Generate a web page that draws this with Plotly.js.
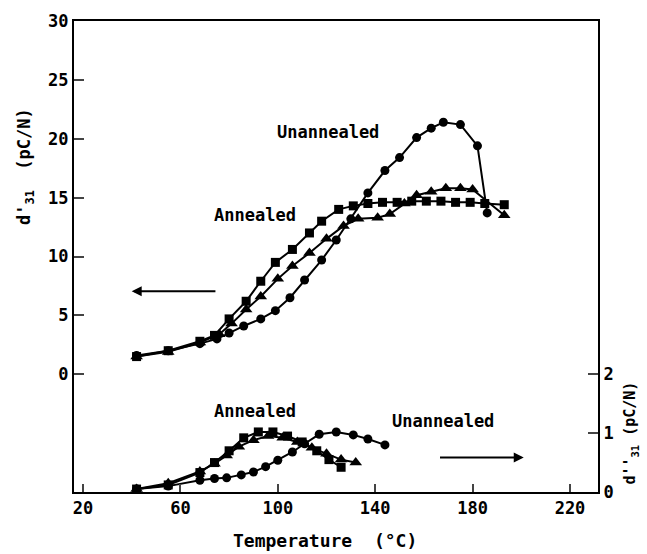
<!DOCTYPE html>
<html><head><meta charset="utf-8">
<script src="https://cdn.plot.ly/plotly-3.0.1.min.js"></script>
<style>html,body{margin:0;padding:0;background:#fff}</style>
</head><body>
<div id="chart" style="width:647px;height:554px"></div>
<script>
// Upper curves (left axis, d'31 pC/N)
const annSqX = [42, 55, 68, 74, 80, 87, 93, 99, 106, 113, 118, 125, 131, 137, 143, 149, 155, 161, 167, 173, 179, 185, 193];
const annSqY = [1.5, 2.0, 2.8, 3.3, 4.7, 6.2, 7.9, 9.5, 10.6, 12.0, 13.0, 14.0, 14.3, 14.5, 14.6, 14.6, 14.7, 14.7, 14.7, 14.6, 14.6, 14.5, 14.4];
const annTrX = [42, 55, 68, 76, 81, 87, 93, 100, 106, 113, 120, 127, 133, 141, 146, 152, 157, 163, 169, 175, 180, 193];
const annTrY = [1.5, 1.9, 2.7, 3.4, 4.3, 5.5, 6.6, 8.1, 9.2, 10.3, 11.5, 12.6, 13.2, 13.3, 13.6, 14.5, 15.2, 15.5, 15.8, 15.8, 15.7, 13.5];
const unaCiX = [42, 55, 68, 75, 80, 86, 93, 99, 105, 111, 118, 124, 130, 137, 144, 150, 157, 163, 168, 175, 182, 186];
const unaCiY = [1.6, 2.0, 2.6, 3.0, 3.5, 4.1, 4.7, 5.4, 6.5, 8.0, 9.7, 11.4, 13.2, 15.4, 17.3, 18.4, 20.1, 20.9, 21.4, 21.2, 19.4, 13.7];
// Lower curves (right axis, d''31 pC/N)
const lowSqX = [42, 55, 68, 74, 80, 86, 92, 98, 104, 110, 116, 121, 126];
const lowSqY = [0.05, 0.12, 0.33, 0.50, 0.70, 0.92, 1.02, 1.02, 0.95, 0.85, 0.70, 0.55, 0.42];
const lowTrX = [42, 55, 68, 74, 79, 84, 90, 96, 102, 108, 114, 120, 126, 132];
const lowTrY = [0.05, 0.15, 0.35, 0.48, 0.62, 0.77, 0.88, 0.95, 0.92, 0.85, 0.75, 0.65, 0.55, 0.50];
const lowCiX = [42, 55, 68, 74, 79, 85, 90, 95, 100, 106, 111, 117, 124, 131, 137, 144];
const lowCiY = [0.05, 0.10, 0.20, 0.23, 0.24, 0.29, 0.34, 0.43, 0.54, 0.68, 0.82, 0.98, 1.02, 0.97, 0.90, 0.80];
const xTicks = [20, 60, 100, 140, 180, 220];
const yTicks = [0, 5, 10, 15, 20, 25, 30];
const y2Ticks = [0, 1, 2];

const F = {family: 'DejaVu Sans Mono', size: 17, color: '#000', weight: 'bold'};
function tr(x, y, sym, axis) {
  return {x: x, y: y, yaxis: axis, type: 'scatter', mode: 'lines+markers',
    line: {color: '#000', width: 2},
    marker: {symbol: sym, size: sym === 'triangle-up' ? 11 : 9, color: '#000'},
    showlegend: false, hoverinfo: 'skip'};
}
const data = [
  tr(annSqX, annSqY, 'square', 'y'),
  tr(annTrX, annTrY, 'triangle-up', 'y'),
  tr(unaCiX, unaCiY, 'circle', 'y'),
  tr(lowSqX, lowSqY, 'square', 'y2'),
  tr(lowTrX, lowTrY, 'triangle-up', 'y2'),
  tr(lowCiX, lowCiY, 'circle', 'y2')
];
const lab = {family: 'DejaVu Sans Mono', size: 17, color: '#000', weight: 'bold'};
const C = {xanchor: 'center', yanchor: 'middle', showarrow: false};
const layout = {
  width: 647, height: 554,
  margin: {l: 74, r: 49, t: 21, b: 62},
  paper_bgcolor: '#fff', plot_bgcolor: '#fff',
  font: F,
  xaxis: {range: [16.3, 231.5], tickvals: xTicks, ticks: 'inside', ticklen: 8, tickwidth: 2,
    showline: true, linewidth: 2, linecolor: '#000', mirror: true, showgrid: false, zeroline: false,
    tickfont: F},
  yaxis: {range: [-10, 30], tickvals: yTicks, ticks: 'inside', ticklen: 10, tickwidth: 2,
    showline: true, linewidth: 2, linecolor: '#000', showgrid: false, zeroline: false, tickfont: F},
  yaxis2: {range: [0, 8], tickvals: y2Ticks, overlaying: 'y', side: 'right', ticks: 'inside', ticklen: 10, tickwidth: 2,
    showline: true, linewidth: 2, linecolor: '#000', showgrid: false, zeroline: false, tickfont: F},
  annotations: [
    Object.assign({x: 120.8, y: 20.6, xref: 'x', yref: 'y', text: 'Unannealed', font: lab}, C),
    Object.assign({x: 90.8, y: 13.5, xref: 'x', yref: 'y', text: 'Annealed', font: lab}, C),
    Object.assign({x: 90.8, y: -3.1, xref: 'x', yref: 'y', text: 'Annealed', font: lab}, C),
    Object.assign({x: 168, y: -4.0, xref: 'x', yref: 'y', text: 'Unannealed', font: lab}, C),
    {x: 40, y: 7.05, ax: 75, ay: 7.05, xref: 'x', yref: 'y', axref: 'x', ayref: 'y', text: '', showarrow: true,
      arrowhead: 2, arrowsize: 1, arrowwidth: 2, arrowcolor: '#000'},
    {x: 201, y: -7.07, ax: 166, ay: -7.07, xref: 'x', yref: 'y', axref: 'x', ayref: 'y', text: '', showarrow: true,
      arrowhead: 2, arrowsize: 1, arrowwidth: 2, arrowcolor: '#000'},
    Object.assign({x: 0.479, y: -0.104, xref: 'paper', yref: 'paper', text: 'Temperature  (°C)', font: {family: 'DejaVu Sans Mono', size: 18, color: '#000', weight: 'bold'}}, C),
    Object.assign({x: -0.0935, y: 0.69, xref: 'paper', yref: 'paper', text: "d'<sub>31</sub>  (pC/N)", textangle: -90, font: F}, C),
    Object.assign({x: 1.062, y: 0.125, xref: 'paper', yref: 'paper', text: "d''<sub>31</sub> (pC/N)", textangle: -90, font: {family: 'DejaVu Sans Mono', size: 15, color: '#000', weight: 'bold'}}, C)
  ]
};
Plotly.newPlot('chart', data, layout, {displayModeBar: false, staticPlot: true});
</script>
</body></html>
